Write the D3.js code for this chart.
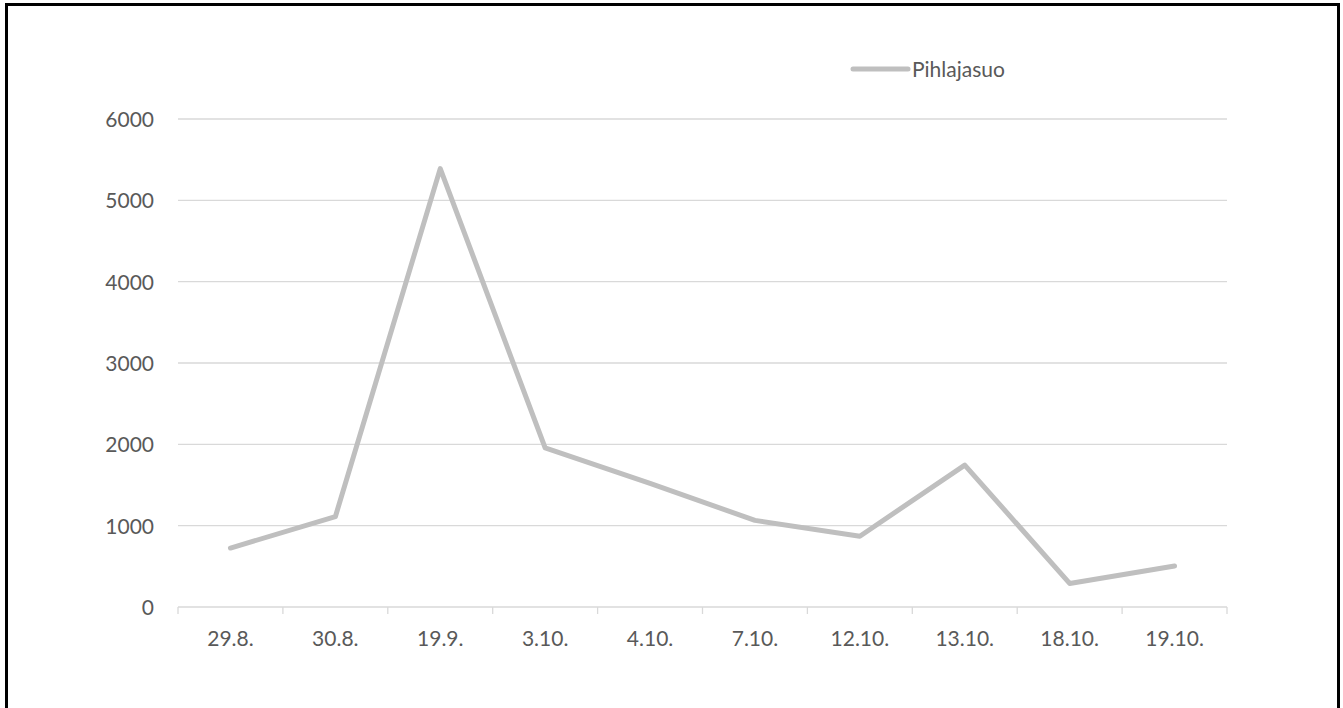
<!DOCTYPE html>
<html>
<head>
<meta charset="utf-8">
<script src="https://cdn.jsdelivr.net/npm/d3@7"></script>
<style>
  html, body { margin: 0; padding: 0; background: #fff; }
  svg { display: block; }
  text { font-family: Lato, "Open Sans", sans-serif; fill: #595959; }
</style>
</head>
<body>
<svg id="chart" width="1343" height="708"></svg>
<script>
// Sample dates and counts for the Pihlajasuo series
const categories = ["29.8.", "30.8.", "19.9.", "3.10.", "4.10.", "7.10.", "12.10.", "13.10.", "18.10.", "19.10."];
const seriesName = "Pihlajasuo";
const values = [725, 1110, 5390, 1955, 1520, 1065, 870, 1745, 290, 505];
const yTicks = [0, 1000, 2000, 3000, 4000, 5000, 6000];

const svg = d3.select("#chart");
const W = 1343, H = 708;
const plot = { left: 178, right: 1227, top: 119, bottom: 607 };

// outer frame
svg.append("rect")
  .attr("x", 6.5).attr("y", 4.5)
  .attr("width", 1332).attr("height", 720)
  .attr("fill", "#fff").attr("stroke", "#000").attr("stroke-width", 3);

const x = d3.scaleBand().domain(categories).range([plot.left, plot.right]).padding(0);
const y = d3.scaleLinear().domain([0, 6000]).range([plot.bottom, plot.top]);

// horizontal gridlines
svg.append("g")
  .selectAll("line")
  .data(yTicks.filter(d => d > 0))
  .join("line")
  .attr("x1", plot.left).attr("x2", plot.right)
  .attr("y1", d => y(d)).attr("y2", d => y(d))
  .attr("stroke", "#d9d9d9").attr("stroke-width", 1.3);

// y axis labels
const yAxis = d3.axisLeft(y).tickValues(yTicks).tickSize(0).tickPadding(24).tickFormat(d3.format("d"));
const gy = svg.append("g").attr("transform", `translate(${plot.left},0)`).call(yAxis);
gy.select(".domain").remove();
gy.selectAll("text").style("font-size", "21px").attr("fill", "#595959").attr("dy", "0.36em");

// x axis with tick marks at the band boundaries
const gx = svg.append("g").attr("transform", `translate(0,${plot.bottom})`);
gx.append("line")
  .attr("x1", plot.left).attr("x2", plot.right)
  .attr("stroke", "#d9d9d9").attr("stroke-width", 1.3);
const edges = categories.map(c => x(c)).concat([x(categories[categories.length - 1]) + x.bandwidth()]);
gx.selectAll("line.tick")
  .data(edges)
  .join("line")
  .attr("class", "tick")
  .attr("x1", d => d).attr("x2", d => d)
  .attr("y1", 0).attr("y2", 7)
  .attr("stroke", "#d9d9d9").attr("stroke-width", 1.3);
gx.selectAll("text")
  .data(categories)
  .join("text")
  .attr("x", d => x(d) + x.bandwidth() / 2)
  .attr("y", 31)
  .attr("dy", "0.36em")
  .attr("text-anchor", "middle")
  .style("font-size", "21px")
  .text(d => d);

// the series line
const line = d3.line()
  .x((d, i) => x(categories[i]) + x.bandwidth() / 2)
  .y(d => y(d));
svg.append("path")
  .datum(values)
  .attr("d", line)
  .attr("fill", "none")
  .attr("stroke", "#bfbfbf")
  .attr("stroke-width", 5)
  .attr("stroke-linejoin", "round")
  .attr("stroke-linecap", "round");

// legend
const lg = svg.append("g").attr("transform", "translate(853,69)");
lg.append("line")
  .attr("x1", 0).attr("x2", 55).attr("y1", 0).attr("y2", 0)
  .attr("stroke", "#bfbfbf").attr("stroke-width", 5).attr("stroke-linecap", "round");
lg.append("text")
  .attr("x", 59).attr("y", 0).attr("dy", "0.36em")
  .style("font-size", "21px")
  .text(seriesName);
</script>
</body>
</html>
